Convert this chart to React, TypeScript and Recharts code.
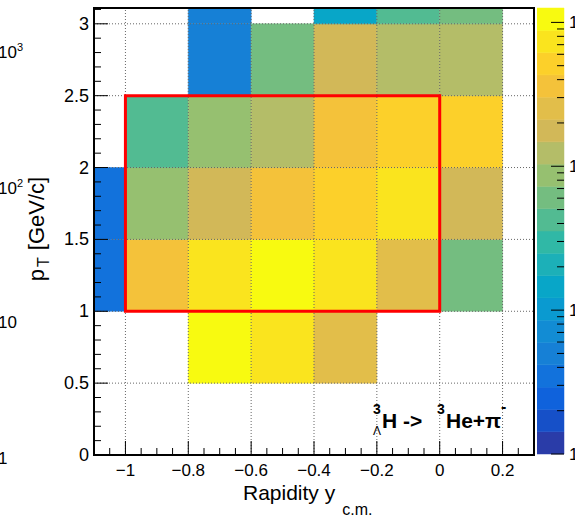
import React from "react";
import { ScatterChart, Scatter, XAxis, YAxis, ReferenceArea, ReferenceLine } from "recharts";

// lower bin edges, rapidity bins are 0.2 wide, pT bins are 0.5 wide
const rapidityEdges = [-1.2, -1.0, -0.8, -0.6, -0.4, -0.2, 0.0, 0.2];
const ptEdges = [0, 0.5, 1.0, 1.5, 2.0, 2.5, 3.0];

// counts per pT row (one value per rapidity bin)
const countsPt00 = [0, 0, 0, 0, 0, 0, 0, 0];
const countsPt05 = [0, 0, 1050, 720, 250, 0, 0, 0];
const countsPt10 = [4, 360, 760, 1100, 700, 240, 58, 0];
const countsPt15 = [4, 90, 175, 350, 520, 790, 185, 0];
const countsPt20 = [0, 43, 85, 128, 345, 505, 530, 0];
const countsPt25 = [0, 0, 5, 62, 175, 120, 130, 0];
const countsPt30 = [0, 0, 5, 0, 15, 42, 60, 0];
const countRows = [countsPt00, countsPt05, countsPt10, countsPt15, countsPt20, countsPt25, countsPt30];

const xGrid = [-1, -0.8, -0.6, -0.4, -0.2, 0, 0.2];
const yGrid = [0.5, 1, 1.5, 2, 2.5, 3];

// kBird-like palette, bottom to top
const paletteColors = [
  "#2a3ca8", "#1650c8", "#0f62dc", "#1272dc", "#1680d6",
  "#128cd4", "#0a9ad0", "#08a6c8", "#1cb0b8", "#30b8a6",
  "#52bb92", "#74bd80", "#96c070", "#b4bd68", "#d2b858",
  "#e2be4a", "#f4c23a", "#fcd02a", "#fae41e", "#f8fa10",
];

const zMin = 1;
const zMax = 1259;
const nBands = paletteColors.length;
const zLog = Math.log10(zMax / zMin);

const colorFor = (v: number) => {
  const b = Math.floor((Math.log10(v / zMin) / zLog) * nBands);
  return paletteColors[Math.max(0, Math.min(nBands - 1, b))];
};

const cells = countRows.flatMap((row, j) =>
  row
    .map((v, i) => ({ x0: rapidityEdges[i], y0: ptEdges[j], x: rapidityEdges[i] + 0.1, y: ptEdges[j] + 0.25, v }))
    .filter((c) => c.v > 0)
);

const bands = paletteColors.map((c, i) => ({
  color: c,
  lo: zMin * Math.pow(10, (i * zLog) / nBands),
  hi: zMin * Math.pow(10, ((i + 1) * zLog) / nBands),
  x: 0.5,
  y: zMin * Math.pow(10, ((i + 0.5) * zLog) / nBands),
}));

const xTicks = Array.from({ length: 29 }, (_, i) => Math.round((-1.1 + i * 0.05) * 100) / 100);
const yTicks = Array.from({ length: 32 }, (_, i) => Math.round(i * 0.1 * 10) / 10);
const zTicks = [1, 10, 100, 1000].flatMap((d) => (d === 1000 ? [1000] : [1, 2, 3, 4, 5, 6, 7, 8, 9].map((k) => k * d)));

const isMultiple = (v: number, step: number) => Math.abs(v / step - Math.round(v / step)) < 1e-6;
const fmt = (v: number) => String(Number(v.toFixed(2))).replace("-", "\u2212");
const noShape = () => <g />;

function XTick(props: any) {
  const { x, y, payload } = props;
  const major = isMultiple(payload.value, 0.2);
  return (
    <g>
      <line x1={x} x2={x} y1={y} y2={y - (major ? 14 : 7)} stroke="#000" strokeWidth={1} />
      {major && (
        <text x={x} y={y + 21} textAnchor="middle" fontSize={17} fill="#000">
          {fmt(payload.value)}
        </text>
      )}
    </g>
  );
}

function YTick(props: any) {
  const { x, y, payload } = props;
  const major = isMultiple(payload.value, 0.5);
  return (
    <g>
      <line x1={x} x2={x + (major ? 14 : 7)} y1={y} y2={y} stroke="#000" strokeWidth={1} />
      {major && (
        <text x={x - 5} y={y + 6} textAnchor="end" fontSize={18} fill="#000">
          {fmt(payload.value)}
        </text>
      )}
    </g>
  );
}

function ZTick(props: any) {
  const { x, y, payload } = props;
  const e = Math.log10(payload.value);
  const major = isMultiple(e, 1);
  return (
    <g>
      <line x1={x - (major ? 13 : 7)} x2={x} y1={y} y2={y} stroke="#000" strokeWidth={1} />
      {major && (
        <text x={x + 5} y={y + 6} textAnchor="start" fontSize={17} fill="#000">
          {e < 2 ? String(payload.value) : "10"}
          {e >= 2 && (
            <tspan dy={-7} fontSize={11}>
              {Math.round(e)}
            </tspan>
          )}
        </text>
      )}
    </g>
  );
}

export default function App() {
  return (
    <div
      style={{
        position: "absolute",
        left: 0,
        top: 0,
        width: 575,
        height: 518,
        background: "#fff",
        overflow: "hidden",
        fontFamily: "'Liberation Sans', Arial, sans-serif",
      }}
    >
      <div style={{ position: "absolute", left: 0, top: 0 }}>
        <ScatterChart width={575} height={518} margin={{ top: 8, right: 41, bottom: 0, left: 0 }}>
          <XAxis
            type="number"
            dataKey="x"
            domain={[-1.1, 0.3]}
            allowDataOverflow
            ticks={xTicks}
            interval={0}
            tick={XTick}
            tickLine={false}
            axisLine={false}
            tickSize={0}
            tickMargin={0}
            height={63}
          />
          <YAxis
            type="number"
            dataKey="y"
            domain={[0, 3.11]}
            allowDataOverflow
            ticks={yTicks}
            interval={0}
            tick={YTick}
            tickLine={false}
            axisLine={false}
            tickSize={0}
            tickMargin={0}
            width={94}
          />
          {cells.map((c) => (
            <ReferenceArea
              key={`${c.x0}_${c.y0}`}
              x1={c.x0}
              x2={c.x0 + 0.2}
              y1={c.y0}
              y2={c.y0 + 0.5}
              ifOverflow="hidden"
              fill={colorFor(c.v)}
              fillOpacity={1}
              stroke={colorFor(c.v)}
              strokeWidth={0.5}
            />
          ))}
          <Scatter data={cells} shape={noShape} isAnimationActive={false} />
          {xGrid.map((v) => (
            <ReferenceLine key={`gx${v}`} x={v} stroke="#666" strokeDasharray="1 2" />
          ))}
          {yGrid.map((v) => (
            <ReferenceLine key={`gy${v}`} y={v} stroke="#666" strokeDasharray="1 2" />
          ))}
          <ReferenceArea
            x1={-1}
            x2={0}
            y1={1}
            y2={2.5}
            fill="none"
            stroke="#ff0000"
            strokeWidth={3}
            ifOverflow="visible"
            zIndex={450}
          />
          <ReferenceArea
            x1={-1.1}
            x2={0.3}
            y1={0}
            y2={3.11}
            fill="none"
            stroke="#000"
            strokeWidth={2}
            ifOverflow="visible"
            zIndex={450}
          />
        </ScatterChart>
      </div>

      <div style={{ position: "absolute", left: 537, top: 0 }}>
        <ScatterChart width={68} height={518} margin={{ top: 8, right: 11, bottom: 64, left: 0 }}>
          <XAxis type="number" dataKey="x" domain={[0, 1]} hide />
          <YAxis
            orientation="right"
            type="number"
            dataKey="y"
            scale="log"
            domain={[zMin, zMax]}
            allowDataOverflow
            ticks={zTicks}
            interval={0}
            tick={ZTick}
            tickLine={false}
            axisLine={false}
            tickSize={0}
            tickMargin={0}
            width={30}
          />
          {bands.map((b) => (
            <ReferenceArea
              key={b.color}
              x1={0}
              x2={1}
              y1={b.lo}
              y2={b.hi}
              fill={b.color}
              fillOpacity={1}
              stroke={b.color}
              strokeWidth={0.5}
            />
          ))}
          <Scatter data={bands} shape={noShape} isAnimationActive={false} />
        </ScatterChart>
      </div>

      <svg
        width={575}
        height={518}
        style={{ position: "absolute", left: 0, top: 0, pointerEvents: "none" }}
        fontFamily="'Liberation Sans', Arial, sans-serif"
      >
        <text x={-2} y={58} fontSize={17}>
          10<tspan dy={-7} fontSize={11}>3</tspan>
        </text>
        <text x={-2} y={194} fontSize={17}>
          10<tspan dy={-7} fontSize={11}>2</tspan>
        </text>
        <text x={-2} y={328} fontSize={17}>10</text>
        <text x={-2} y={464} fontSize={17}>1</text>

        <text x={243} y={500} fontSize={21}>
          Rapidity y
          <tspan dx={7} dy={15} fontSize={16}>
            c.m.
          </tspan>
        </text>

        <text transform="translate(43.5,229) rotate(-90)" textAnchor="middle" fontSize={22}>
          p
          <tspan dx={2} dy={5} fontSize={16}>
            T
          </tspan>
          <tspan dx={7} dy={-5}>
            [GeV/c]
          </tspan>
        </text>

        <text fontWeight="bold" fill="#000">
          <tspan x={373} y={414} fontSize={14}>3</tspan>
          <tspan x={373} y={435} fontSize={12} fontWeight="normal">{"\u039b"}</tspan>
          <tspan x={382} y={428} fontSize={21}>{"H ->"}</tspan>
          <tspan x={437} y={414} fontSize={14}>3</tspan>
          <tspan x={446} y={428} fontSize={21}>{"He+\u03c0"}</tspan>
          <tspan x={501} y={412} fontSize={16}>-</tspan>
        </text>
      </svg>
    </div>
  );
}
